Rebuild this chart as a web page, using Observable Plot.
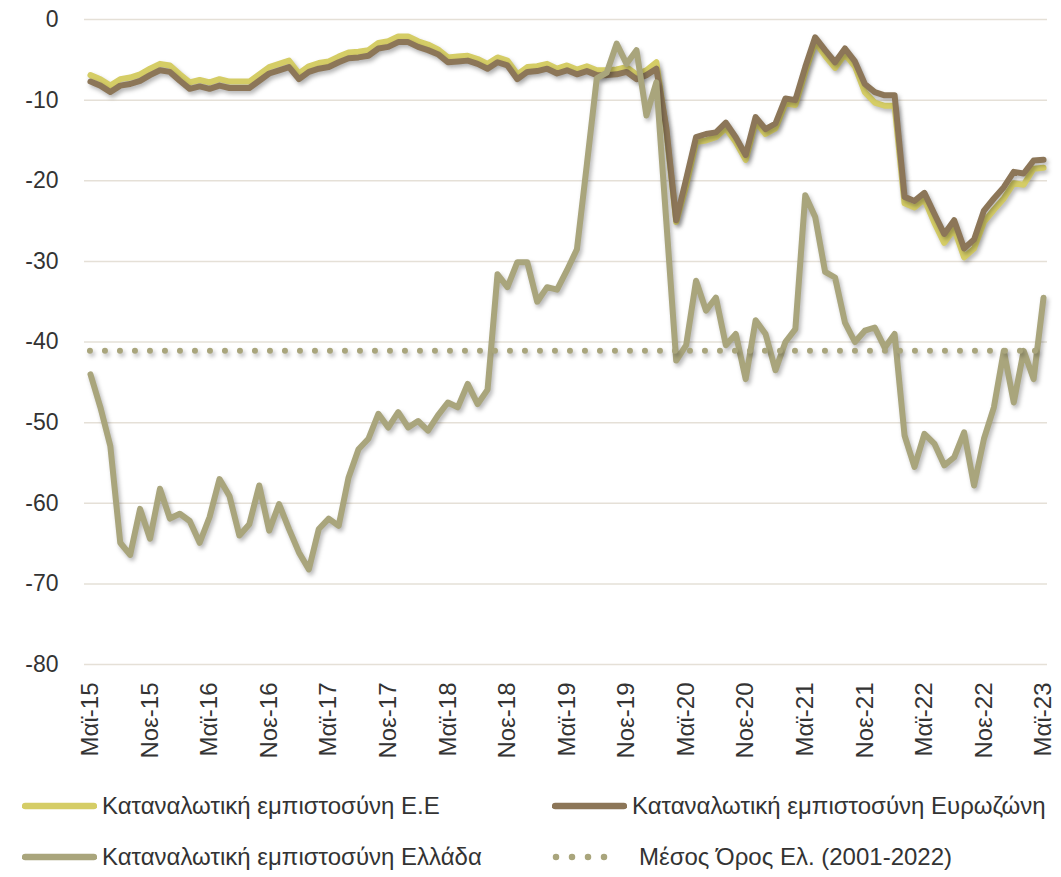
<!DOCTYPE html>
<html><head><meta charset="utf-8">
<script src="https://cdn.jsdelivr.net/npm/d3@7"></script>
<script src="https://cdn.jsdelivr.net/npm/@observablehq/plot@0.6"></script>
<style>
body{margin:0;background:#fff;font-family:"Liberation Sans",Arial,sans-serif;color:#333;}
#chart svg{display:block;}
#legend{position:relative;width:1061px;height:97px;}
.item{position:absolute;display:flex;align-items:center;height:30px;font-size:24px;white-space:nowrap;}
.item svg{display:block;margin-right:5px;}
</style></head><body>
<div id="chart"></div>
<div id="legend"></div>
<script>
// ---- Data ----
const tickLabels = ["Μαϊ-15","Νοε-15","Μαϊ-16","Νοε-16","Μαϊ-17","Νοε-17","Μαϊ-18","Νοε-18","Μαϊ-19","Νοε-19","Μαϊ-20","Νοε-20","Μαϊ-21","Νοε-21","Μαϊ-22","Νοε-22","Μαϊ-23"];
const yTicks = [0,-10,-20,-30,-40,-50,-60,-70,-80];
const yTickLabels = ["0","-10","-20","-30","-40","-50","-60","-70","-80"];
const seriesNames = ["Καταναλωτική εμπιστοσύνη Ε.Ε","Καταναλωτική εμπιστοσύνη Ευρωζώνη","Καταναλωτική εμπιστοσύνη Ελλάδα","Μέσος Όρος Ελ. (2001-2022)"];
const seriesColors = ["#d5cd66","#8c7658","#a9a57c","#a9a57c"];

// monthly, May 2015 .. May 2023
const euValues = [
 -6.9,-7.4,-8.2,-7.4,-7.2,-6.8,-6.1,-5.5,-5.7,-6.8,-7.8,-7.5,-7.8,-7.4,-7.7,-7.7,-7.7,-6.8,-5.9,-5.5,
 -5.1,-6.7,-5.8,-5.4,-5.2,-4.6,-4.1,-4.0,-3.8,-2.9,-2.7,-2.1,-2.1,-2.7,-3.1,-3.7,-4.7,-4.6,-4.5,-4.9,
 -5.5,-4.7,-5.1,-6.8,-5.9,-5.8,-5.5,-6.1,-5.7,-6.2,-5.8,-6.3,-6.3,-6.2,-5.9,-6.8,-6.3,-5.3,-13.8,-25.1,
 -20.6,-15.2,-15.0,-14.6,-13.5,-15.2,-17.4,-12.7,-14.2,-13.5,-10.4,-10.6,-6.5,-2.8,-4.5,-6.0,-4.3,-5.8,-9.0,-10.3,
 -10.7,-10.7,-22.8,-23.3,-22.3,-25.2,-27.7,-26.0,-29.5,-28.4,-25.1,-23.6,-22.2,-20.3,-20.5,-18.5,-18.4];
const ezValues = [
 -7.7,-8.2,-9.0,-8.2,-8.0,-7.6,-6.9,-6.3,-6.5,-7.6,-8.6,-8.3,-8.6,-8.2,-8.5,-8.5,-8.5,-7.6,-6.7,-6.3,
 -5.9,-7.4,-6.5,-6.1,-5.9,-5.3,-4.8,-4.7,-4.5,-3.6,-3.4,-2.8,-2.8,-3.4,-3.8,-4.3,-5.3,-5.2,-5.1,-5.5,
 -6.1,-5.3,-5.7,-7.4,-6.5,-6.4,-6.1,-6.7,-6.3,-6.8,-6.4,-6.9,-6.9,-6.8,-6.5,-7.4,-6.9,-6.1,-13.4,-24.9,
 -19.8,-14.6,-14.2,-14.0,-12.8,-14.6,-16.8,-12.1,-13.6,-12.9,-9.8,-10.0,-5.9,-2.2,-3.8,-5.3,-3.6,-5.2,-8.0,-9.0,
 -9.4,-9.4,-22.0,-22.5,-21.5,-24.1,-26.6,-24.9,-28.4,-27.3,-23.7,-22.2,-20.8,-18.9,-19.1,-17.5,-17.4];
const grValues = [
 -44.0,-48.1,-52.9,-64.9,-66.4,-60.7,-64.4,-58.2,-61.9,-61.3,-62.2,-64.9,-61.7,-57.0,-59.1,-64.0,-62.6,-57.8,-63.4,-60.1,
 -63.2,-66.1,-68.2,-63.2,-61.9,-62.8,-56.8,-53.3,-52.0,-48.9,-50.6,-48.7,-50.6,-49.8,-51.0,-49.1,-47.5,-48.1,-45.2,-47.7,
 -45.9,-31.6,-33.2,-30.1,-30.1,-35.0,-33.2,-33.5,-31.1,-28.5,-18.0,-7.3,-6.6,-3.0,-5.5,-3.8,-11.9,-7.8,-25.0,-42.3,
 -40.4,-32.4,-36.1,-34.5,-40.4,-39.0,-44.6,-37.3,-39.0,-43.5,-40.0,-38.4,-21.8,-24.5,-31.3,-32.0,-37.6,-40.0,-38.6,-38.2,
 -40.7,-39.0,-51.6,-55.5,-51.4,-52.6,-55.3,-54.3,-51.2,-57.8,-52.0,-48.1,-41.1,-47.5,-41.1,-44.6,-34.5];
const grAverage = -41.1;

// ---- Chart ----
const W = 1061, H = 780;
const tickIdx = tickLabels.map((_, k) => k * 6);
const lastIdx = grValues.length - 1;
const shadow = "drop-shadow(2px 3px 2px rgba(0,0,0,0.28))";
const font = '"Liberation Sans", Arial, sans-serif';

const chart = Plot.plot({
  width: W, height: H,
  marginLeft: 84, marginRight: 14, marginTop: 19, marginBottom: H - 664,
  x: {type: "linear", domain: [-0.6, lastIdx + 0.4]},
  y: {domain: [-80, 0]},
  style: {fontFamily: font, fontSize: "22px", color: "#333", background: "#fff", overflow: "visible"},
  marks: [
    Plot.ruleY(yTicks, {stroke: "#e5e0d7", strokeWidth: 1.5}),
    Plot.axisY({ticks: yTicks, tickFormat: d => yTickLabels[yTicks.indexOf(d)], tickSize: 0, tickPadding: 26, fontSize: 23, label: null}),
    Plot.axisX({ticks: tickIdx, tickFormat: i => tickLabels[i / 6], tickRotate: -90, tickSize: 0, tickPadding: 18, fontSize: 24, label: null}),
    Plot.lineY(euValues, {x: (d, i) => i, y: d => d, stroke: seriesColors[0], strokeWidth: 6, strokeLinejoin: "round", imageFilter: shadow}),
    Plot.lineY(ezValues, {x: (d, i) => i, y: d => d, stroke: seriesColors[1], strokeWidth: 6, strokeLinejoin: "round", imageFilter: shadow}),
    Plot.lineY(grValues, {x: (d, i) => i, y: d => d, stroke: seriesColors[2], strokeWidth: 6, strokeLinejoin: "round", imageFilter: shadow}),
    Plot.ruleY([grAverage], {x1: 0, x2: lastIdx, stroke: seriesColors[3], strokeWidth: 6, strokeDasharray: "0 15", strokeLinecap: "round", imageFilter: shadow})
  ]
});
document.getElementById("chart").appendChild(chart);

// ---- Legend ----
const legend = document.getElementById("legend");
const legendPos = [
  {left: 22, top: 11},
  {left: 552, top: 11},
  {left: 22, top: 62},
  {left: 552, top: 62}
];
seriesNames.forEach((name, k) => {
  const div = document.createElement("div");
  div.className = "item";
  div.style.left = legendPos[k].left + "px";
  div.style.top = legendPos[k].top + "px";
  const dotted = k === 3;
  const sw = dotted ? 82 : 75;
  const line = dotted
    ? `<line x1="4" y1="15" x2="68" y2="15" stroke="${seriesColors[k]}" stroke-width="6.5" stroke-linecap="round" stroke-dasharray="0 16"/>`
    : `<line x1="3" y1="15" x2="72" y2="15" stroke="${seriesColors[k]}" stroke-width="6.5" stroke-linecap="round"/>`;
  div.innerHTML = `<svg width="${sw}" height="30">${line}</svg><span>${name}</span>`;
  legend.appendChild(div);
});
</script>
</body></html>
